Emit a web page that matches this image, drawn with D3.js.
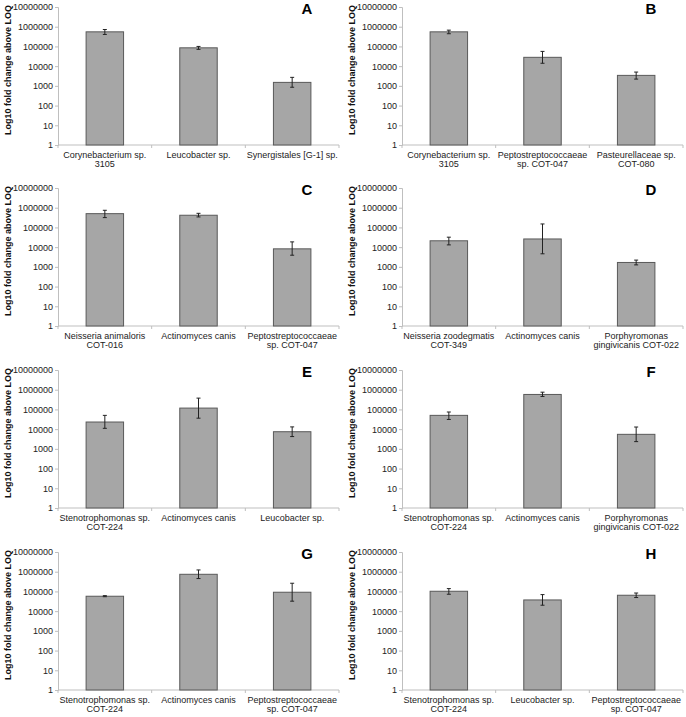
<!DOCTYPE html>
<html><head><meta charset="utf-8">
<script src="https://cdn.jsdelivr.net/npm/d3@7"></script>
<style>
body{margin:0;background:#fff;}
svg{display:block;font-family:Arial,"Liberation Sans",sans-serif;}
</style></head>
<body><svg id="c" width="686" height="717"></svg>
<script>
const panelLetters = ["A","B","C","D","E","F","G","H"];
const categoriesA = [["Corynebacterium sp.","3105"],["Leucobacter sp."],["Synergistales [G-1] sp."]];
const categoriesB = [["Corynebacterium sp.","3105"],["Peptostreptococcaeae","sp. COT-047"],["Pasteurellaceae sp.","COT-080"]];
const categoriesC = [["Neisseria animaloris","COT-016"],["Actinomyces canis"],["Peptostreptococcaeae","sp. COT-047"]];
const categoriesD = [["Neisseria zoodegmatis","COT-349"],["Actinomyces canis"],["Porphyromonas","gingivicanis COT-022"]];
const categoriesE = [["Stenotrophomonas sp.","COT-224"],["Actinomyces canis"],["Leucobacter sp."]];
const categoriesF = [["Stenotrophomonas sp.","COT-224"],["Actinomyces canis"],["Porphyromonas","gingivicanis COT-022"]];
const categoriesG = [["Stenotrophomonas sp.","COT-224"],["Actinomyces canis"],["Peptostreptococcaeae","sp. COT-047"]];
const categoriesH = [["Stenotrophomonas sp.","COT-224"],["Leucobacter sp."],["Peptostreptococcaeae","sp. COT-047"]];

const valuesA = [550000, 85000, 1500];
const valuesB = [550000, 28000, 3400];
const valuesC = [500000, 415000, 8200];
const valuesD = [21000, 26000, 1670];
const valuesE = [23000, 117000, 7400];
const valuesF = [50000, 575000, 5450];
const valuesG = [57000, 740000, 91000];
const valuesH = [102000, 37000, 64000];

const errLowA = [405000, 71000, 850],   errHighA = [720000, 100000, 2700];
const errLowB = [440000, 14000, 2200],  errHighB = [670000, 56000, 5000];
const errLowC = [315000, 340000, 3900], errHighC = [740000, 520000, 18500];
const errLowD = [13000, 4600, 1260],    errHighD = [32000, 150000, 2200];
const errLowE = [11000, 36000, 4200],   errHighE = [50000, 375000, 13000];
const errLowF = [31000, 455000, 2330],  errHighF = [74000, 750000, 12800];
const errLowG = [54000, 450000, 32000], errHighG = [61000, 1230000, 260000];
const errLowH = [72000, 20000, 49000],  errHighH = [139000, 69000, 83000];

const yTicks = [1, 10, 100, 1000, 10000, 100000, 1000000, 10000000];
const yTitle = "Log10 fold change above LOQ";

const panels = [
  {cats:categoriesA, vals:valuesA, lo:errLowA, hi:errHighA},
  {cats:categoriesB, vals:valuesB, lo:errLowB, hi:errHighB},
  {cats:categoriesC, vals:valuesC, lo:errLowC, hi:errHighC},
  {cats:categoriesD, vals:valuesD, lo:errLowD, hi:errHighD},
  {cats:categoriesE, vals:valuesE, lo:errLowE, hi:errHighE},
  {cats:categoriesF, vals:valuesF, lo:errLowF, hi:errHighF},
  {cats:categoriesG, vals:valuesG, lo:errLowG, hi:errHighG},
  {cats:categoriesH, vals:valuesH, lo:errLowH, hi:errHighH}
];

const svg = d3.select("#c");
const colX = [58, 402];
const rowY = [7, 188, 370, 552];
const W = 281, H = 138;

panels.forEach((p, i) => {
  const x0 = colX[i % 2], y0 = rowY[Math.floor(i / 2)];
  const g = svg.append("g").attr("transform", `translate(${x0},${y0})`);
  const x = d3.scaleBand().domain(d3.range(p.vals.length)).range([0, W]).paddingInner(0).paddingOuter(0);
  const y = d3.scaleLog().domain([1, 1e7]).range([H, 0]);
  const bw = x.bandwidth() * 0.4;

  // y axis
  const ya = g.append("g").call(d3.axisLeft(y).tickValues(yTicks).tickFormat(d3.format("d")).tickSize(3).tickPadding(2));
  ya.select(".domain").attr("stroke", "#bfbfbf");
  ya.selectAll(".tick line").attr("stroke", "#bfbfbf");
  ya.selectAll(".tick text").attr("font-size", 9).attr("fill", "#222").attr("font-family", "Arial, 'Liberation Sans', sans-serif");

  // x axis baseline with ticks at category boundaries
  g.append("line").attr("x1", 0).attr("x2", W).attr("y1", H).attr("y2", H).attr("stroke", "#bfbfbf");
  const bounds = d3.range(p.vals.length + 1).map(k => k === p.vals.length ? W : x(k));
  g.selectAll(".xt").data(bounds).join("line")
    .attr("x1", d => d).attr("x2", d => d).attr("y1", H).attr("y2", H + 3).attr("stroke", "#bfbfbf");

  // bars
  g.selectAll(".bar").data(p.vals).join("rect")
    .attr("x", (d, k) => x(k) + (x.bandwidth() - bw) / 2)
    .attr("y", d => y(d))
    .attr("width", bw)
    .attr("height", d => H - y(d))
    .attr("fill", "#a6a6a6").attr("stroke", "#595959").attr("stroke-width", 1);

  // error bars
  const eg = g.selectAll(".err").data(p.vals).join("g");
  eg.append("line")
    .attr("x1", (d, k) => x(k) + x.bandwidth() / 2).attr("x2", (d, k) => x(k) + x.bandwidth() / 2)
    .attr("y1", (d, k) => y(p.lo[k])).attr("y2", (d, k) => y(p.hi[k]))
    .attr("stroke", "#222").attr("stroke-width", 1);
  ["lo", "hi"].forEach(key => {
    eg.append("line")
      .attr("x1", (d, k) => x(k) + x.bandwidth() / 2 - 2).attr("x2", (d, k) => x(k) + x.bandwidth() / 2 + 2)
      .attr("y1", (d, k) => y(p[key][k])).attr("y2", (d, k) => y(p[key][k]))
      .attr("stroke", "#222").attr("stroke-width", 1);
  });

  // category labels
  p.cats.forEach((lines, k) => {
    const t = g.append("text").attr("text-anchor", "middle").attr("font-size", 9).attr("fill", "#222")
      .attr("x", x(k) + x.bandwidth() / 2).attr("y", H + 13);
    lines.forEach((ln, j) => t.append("tspan").attr("x", x(k) + x.bandwidth() / 2).attr("dy", j === 0 ? 0 : 9).text(ln));
  });

  // y title
  g.append("text").attr("transform", `translate(${-47},${H / 2 - 6}) rotate(-90)`)
    .attr("text-anchor", "middle").attr("font-size", 9).attr("font-weight", "bold").attr("fill", "#111")
    .text(yTitle);

  // panel letter
  g.append("text").attr("x", 249).attr("y", 7).attr("text-anchor", "middle")
    .attr("font-size", 15).attr("font-weight", "bold").attr("fill", "#000").text(panelLetters[i]);
});
</script></body></html>
